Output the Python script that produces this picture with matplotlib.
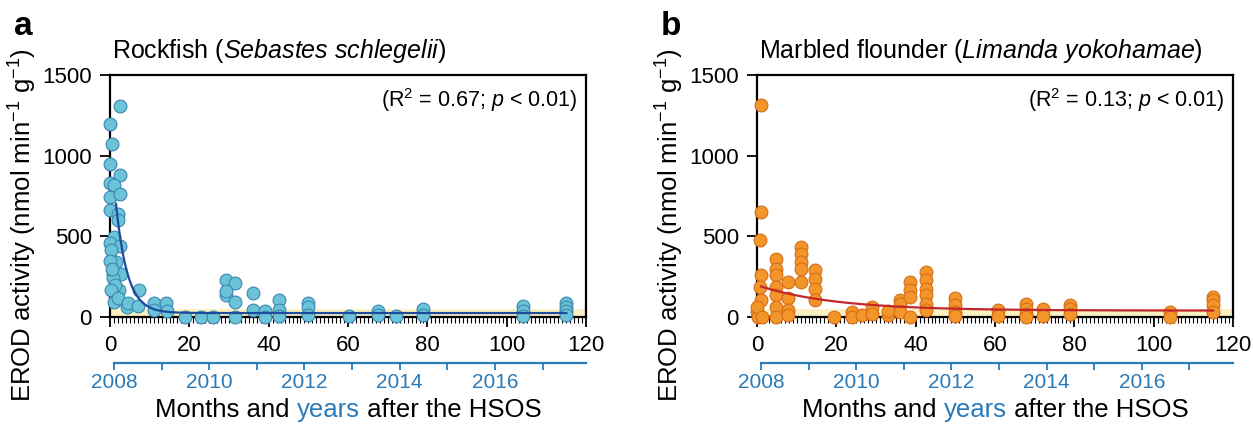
import numpy as np
import matplotlib
matplotlib.use("Agg")
import matplotlib.pyplot as plt
from matplotlib.offsetbox import TextArea, HPacker, AnnotationBbox

plt.rcParams['font.family'] = ['Liberation Sans', 'DejaVu Sans']
plt.rcParams['mathtext.fontset'] = 'custom'
plt.rcParams['mathtext.rm'] = 'Liberation Sans'
plt.rcParams['mathtext.it'] = 'Liberation Sans:italic'

# rockfish: months after the spill, EROD activity
rock_month = [2.5, 0, 0.5, 0, 2.5, 0, 1, 0, 2.5, 0, 2, 2, 1, 0, 2.5, 0.3, 1.5, 0,
              0.7, 2.8, 0.7, 2.3, 1, 0.5, 1.2, 0.3, 2, 4.4, 4.6, 7.3, 7, 11, 11,
              14, 14.3, 19, 23, 26, 29.3, 31.6, 29.3, 29.3, 31.6, 31.6, 36, 36,
              39, 39, 42.6, 42.6, 42.6, 50, 50, 50, 60.3, 67.6, 67.6, 72, 79, 79,
              104, 104, 104, 115, 115, 115, 115]
rock_erod = [1308, 1200, 1076, 948, 880, 834, 817, 745, 765, 662, 640, 605, 497,
             460, 439, 414, 341, 350, 270, 270, 240, 165, 93, 300, 200, 170, 120,
             62, 85, 165, 66, 89, 41, 89, 37, 0, 2, 2, 228, 214, 137, 160, 96, 0,
             147, 45, 35, 0, 106, 45, 5, 86, 60, 14, 8, 35, 14, 8, 49, 10,
             71, 35, 8, 86, 65, 35, 10]

# marbled flounder
floun_month = [1, 1, 0.8, 1, 0.8, 1, 0, 0.3, 0, 1.3,
               4.7, 4.7, 4.7, 4.7, 4.7, 4.7, 4.7,
               7.8, 7.8, 7.8, 7.8,
               11.1, 11.1, 11.1, 11.1, 11.1,
               14.7, 14.7, 14.7, 14.7,
               19.4, 23.9, 23.9, 26.5, 29, 29, 33, 33,
               36, 36, 36, 38.6, 38.6, 38.6, 38.6,
               42.6, 42.6, 42.6, 42.6, 42.6, 42.6,
               50, 50, 50, 50, 60.7, 60.7, 67.7, 67.7, 67.7, 67.7,
               72.2, 72.2, 78.8, 78.8, 78.8, 104, 104,
               115, 115, 115, 115]
floun_erod = [1314, 652, 480, 259, 186, 103, 31, 0, 62, 0,
              362, 300, 259, 186, 134, 62, 0,
              217, 120, 41, 10,
              434, 393, 341, 300, 217,
              290, 238, 176, 108,
              0, 31, 0, 10, 62, 17, 10, 40,
              103, 83, 31, 217, 165, 124, 0,
              279, 228, 176, 134, 83, 41,
              119, 77, 31, 6, 42, 6, 83, 52, 21, 0,
              52, 6, 77, 52, 21, 31, 0,
              125, 104, 73, 31]

# exponential decay fits: plateau, amplitude, rate, start month
rock_fit = (25, 678, 0.35, 1.5)
floun_fit = (40, 150, 0.052, 1.0)

year_ticks = [1, 13, 25, 37, 49, 61, 73, 85, 97, 109]
year_labels = ['2008', '', '2010', '', '2012', '', '2014', '', '2016', '']

blue_txt = '#2a7ab8'

fig = plt.figure(figsize=(12.53, 4.25), dpi=100)

panels = [
    dict(left=0.0878, month=rock_month, erod=rock_erod, fit=rock_fit,
         fc='#6cc3d8', ec='#3a86b0', lc='#1f4b9e',
         title=r'Rockfish ($\it{Sebastes\ schlegelii}$)',
         r2=r'(R$^2$ = 0.67; $\it{p}$ < 0.01)', tag='a'),
    dict(left=0.6041, month=floun_month, erod=floun_erod, fit=floun_fit,
         fc='#f2962c', ec='#d66d16', lc='#c0272d',
         title=r'Marbled flounder ($\it{Limanda\ yokohamae}$)',
         r2=r'(R$^2$ = 0.13; $\it{p}$ < 0.01)', tag='b'),
]

for p in panels:
    ax = fig.add_axes([p['left'], 0.254, 0.380, 0.569])
    ax.axhspan(0, 50, color='#faf1c2', zorder=0, lw=0)
    ax.scatter(p['month'], p['erod'], s=85, facecolor=p['fc'], edgecolor=p['ec'],
               linewidth=0.8, zorder=3, clip_on=False)
    c, a, k, t0 = p['fit']
    t = np.linspace(t0, 115, 300)
    ax.plot(t, c + a * np.exp(-k * (t - t0)), color=p['lc'], lw=1.6, zorder=4)

    ax.set_xlim(0, 120)
    ax.set_ylim(0, 1500)
    ax.set_xticks(range(0, 121, 20))
    ax.set_xticks(range(0, 121, 1), minor=True)
    ax.set_yticks([0, 500, 1000, 1500])
    ax.tick_params(axis='both', which='major', direction='out', length=7, width=1.3,
                   labelsize=16, color='black', pad=6)
    ax.tick_params(axis='x', which='minor', direction='out', length=4.5, width=0.8)
    for s in ax.spines.values():
        s.set_linewidth(1.6)
    ax.set_ylabel('EROD activity (nmol min$^{-1}$ g$^{-1}$)', fontsize=18.5)
    ax.yaxis.set_label_coords(-0.15, 0.381)

    sec = ax.secondary_xaxis(-0.19)
    sec.set_xticks(year_ticks)
    sec.set_xticklabels(year_labels)
    sec.spines['bottom'].set_color(blue_txt)
    sec.spines['bottom'].set_linewidth(1.6)
    sec.spines['bottom'].set_bounds(1, 120)
    sec.tick_params(axis='x', colors=blue_txt, length=5, width=1.3, labelsize=15, pad=2)

    ax.text(0.004, 1.071, p['title'], transform=ax.transAxes, fontsize=18,
            ha='left', va='baseline')
    ax.text(0.981, 0.868, p['r2'], transform=ax.transAxes, fontsize=15.5,
            ha='right', va='baseline')
    ax.text(-0.202, 1.167, p['tag'], transform=ax.transAxes, fontsize=24,
            fontweight='bold', ha='left', va='baseline')

    parts = [TextArea('Months and ', textprops=dict(fontsize=18.5, color='black')),
             TextArea('years', textprops=dict(fontsize=18.5, color=blue_txt)),
             TextArea(' after the HSOS', textprops=dict(fontsize=18.5, color='black'))]
    box = HPacker(children=parts, align='baseline', pad=0, sep=0)
    ab = AnnotationBbox(box, (0.5, -0.384), xycoords='axes fraction',
                        box_alignment=(0.5, 0.5), frameon=False)
    ax.add_artist(ab)

fig.savefig('out.png', dpi=100)
